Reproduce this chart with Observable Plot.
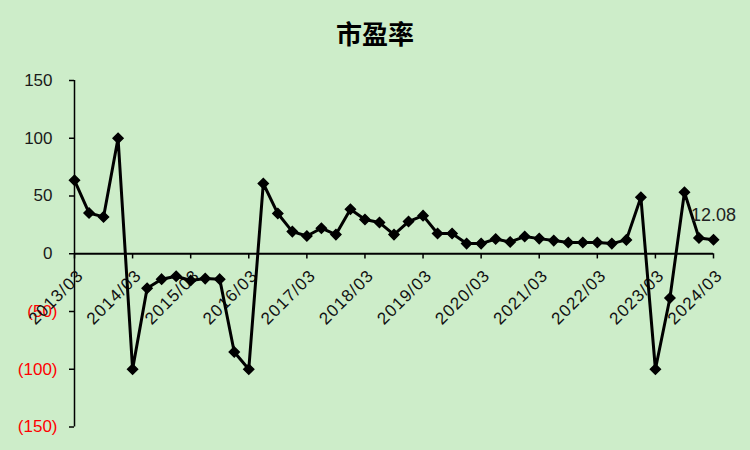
<!DOCTYPE html>
<html><head><meta charset="utf-8">
<script src="https://cdn.jsdelivr.net/npm/d3@7"></script>
<script src="https://cdn.jsdelivr.net/npm/@observablehq/plot@0.6"></script>
<style>
html,body{margin:0;padding:0;background:#cdedc9;}
#wrap{width:750px;height:450px;background:#cdedc9;overflow:hidden}
#title{height:42px;padding-top:18px;line-height:30px;text-align:center;font-family:"Noto Sans CJK SC";font-size:26px;font-weight:bold;color:#000}
</style></head><body><div id="wrap"><div id="title">市盈率</div><div id="chart"></div></div>
<script>
const quarters = [
 "2013/03","2013/06","2013/09","2013/12",
 "2014/03","2014/06","2014/09","2014/12",
 "2015/03","2015/06","2015/09","2015/12",
 "2016/03","2016/06","2016/09","2016/12",
 "2017/03","2017/06","2017/09","2017/12",
 "2018/03","2018/06","2018/09","2018/12",
 "2019/03","2019/06","2019/09","2019/12",
 "2020/03","2020/06","2020/09","2020/12",
 "2021/03","2021/06","2021/09","2021/12",
 "2022/03","2022/06","2022/09","2022/12",
 "2023/03","2023/06","2023/09","2023/12",
 "2024/03"];
const pe = [63.6, 35.3, 31.9, 100, -100, -29.9, -22, -19.5, -23.2, -21.5, -22, -85,
 -100, 60.8, 34.8, 19.2, 15.4, 22.1, 16.6, 38.5, 29.6, 27, 16.6, 27.9,
 33, 17.5, 17.5, 8.8, 8.8, 12.8, 10.2, 14.9, 13.1, 11.4, 9.7, 9.7,
 9.7, 8.8, 12, 48.9, -100, -38.3, 53.2, 13.7, 12.08];
const yearTicks = ["2013/03","2014/03","2015/03","2016/03","2017/03","2018/03",
 "2019/03","2020/03","2021/03","2022/03","2023/03","2024/03"];
const yTicks = [150, 100, 50, 0, -50, -100, -150];
const lastLabel = "12.08";

const data = pe.map((v, i) => ({i, q: quarters[i], v}));
const yearIdx = yearTicks.map(t => ({i: quarters.indexOf(t), t}));
const font = "'Liberation Sans', Arial, sans-serif";
const n = quarters.length - 1;

const plot = Plot.plot({
  width: 750, height: 390,
  marginTop: 20, marginBottom: 23.5, marginLeft: 74, marginRight: 37,
  style: {background: "transparent", fontFamily: font, overflow: "visible"},
  x: {type: "linear", domain: [0, n], axis: null},
  y: {domain: [-150, 150], axis: null},
  marks: [
    Plot.ruleY(yTicks, {y: d => d, x1: 0, x2: -5 * n / 639, stroke: "black", strokeWidth: 1.5}),
    Plot.ruleX([0], {x: d => d, y1: -150, y2: 150, stroke: "black", strokeWidth: 1.5}),
    Plot.text(yTicks.filter(d => d >= 0), {y: d => d, text: d => String(d), frameAnchor: "left", textAnchor: "end", dx: -22, fontSize: 17, fill: "#1a1a1a"}),
    Plot.text(yTicks.filter(d => d < 0), {y: d => d, text: d => "(" + (-d) + ")", frameAnchor: "left", textAnchor: "end", dx: -17, fontSize: 17, fill: "#ff0000"}),
    Plot.ruleY([0], {y: d => d, x1: 0, x2: n, stroke: "black", strokeWidth: 2}),
    Plot.ruleX(yearIdx, {x: "i", y1: 0, y2: -4.5, stroke: "black", strokeWidth: 1.5}),
    Plot.text(yearIdx, {x: "i", y: 0, text: "t", rotate: -45, textAnchor: "end", dx: 6, dy: 19, fontSize: 17, fill: "#111"}),
    Plot.line(data, {x: "i", y: "v", stroke: "black", strokeWidth: 3}),
    Plot.dot(data, {x: "i", y: "v", symbol: "diamond2", r: 4.5, fill: "black", stroke: "black"}),
    Plot.text([data[data.length - 1]], {x: "i", y: "v", text: () => lastLabel, dy: -25, fontSize: 18, fill: "#222"})
  ]
});
d3.select(plot).selectAll("text").filter(function() { return yearTicks.includes(this.textContent); })
  .attr("letter-spacing", "1.1px");
document.getElementById("chart").appendChild(plot);
</script></body></html>
